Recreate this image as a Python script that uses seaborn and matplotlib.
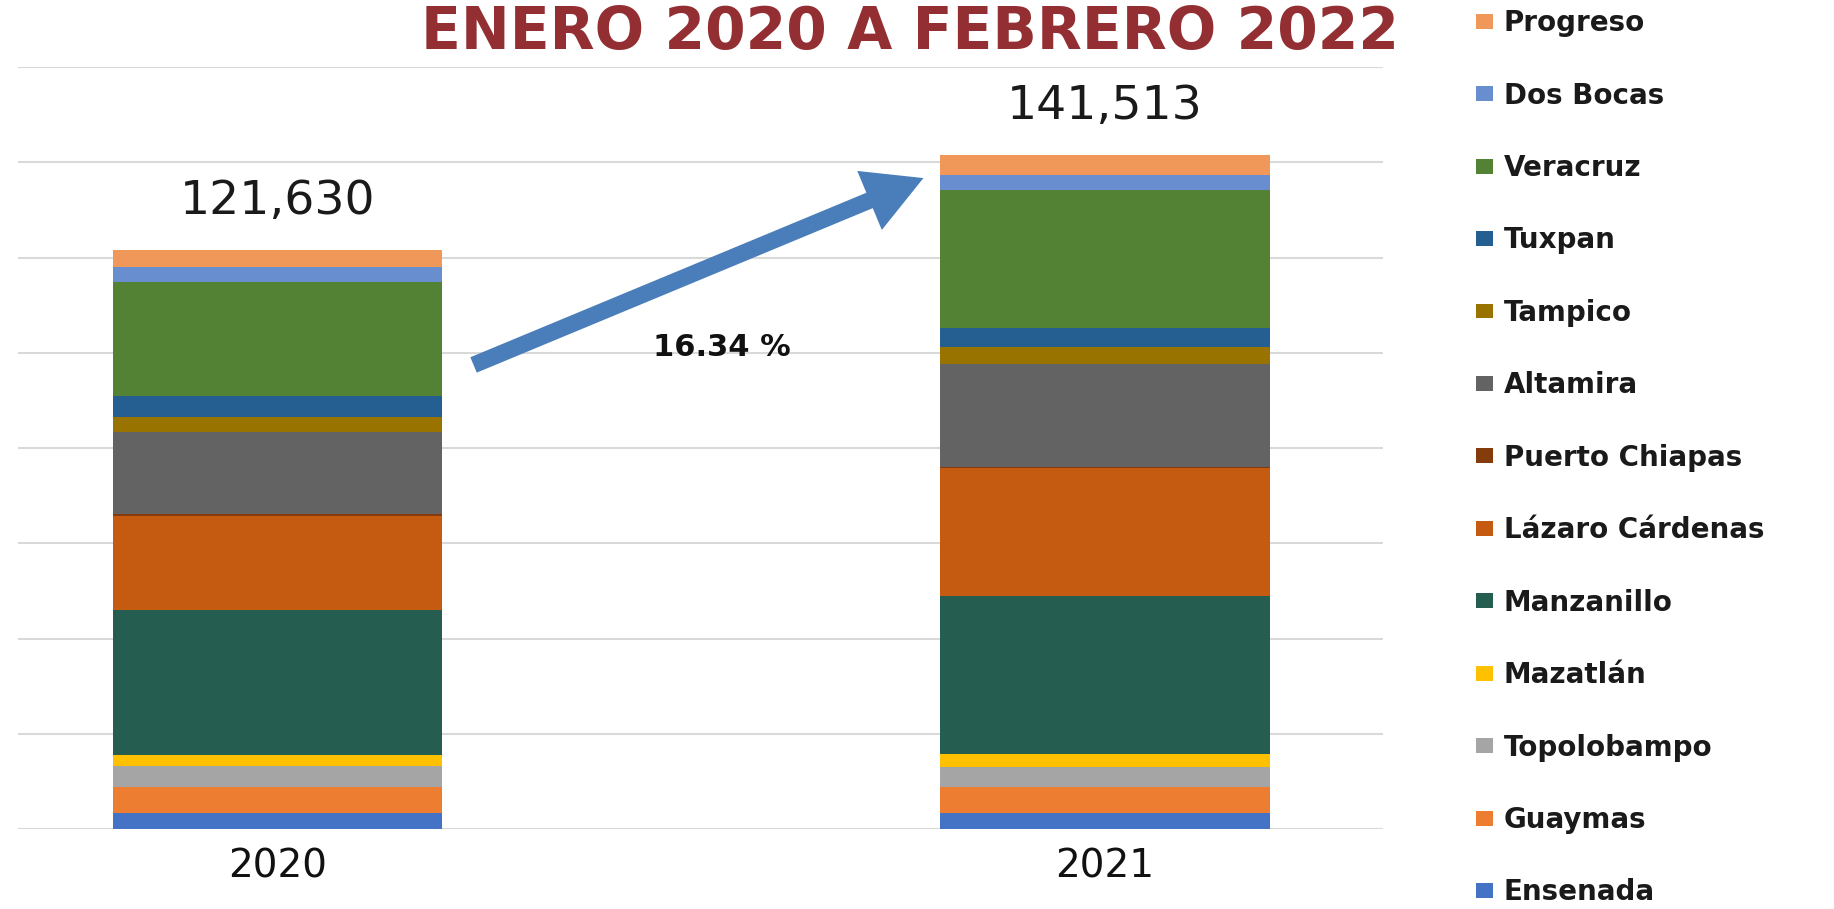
import pandas as pd
import numpy as np
import matplotlib
matplotlib.use('Agg')
import matplotlib.pyplot as plt
from matplotlib.patches import Patch, FancyArrowPatch
import seaborn as sns

years = ['2020', '2021']
ports = ['Progreso', 'Dos Bocas', 'Veracruz', 'Tuxpan', 'Tampico', 'Altamira',
         'Puerto Chiapas', 'Lázaro Cárdenas', 'Manzanillo', 'Mazatlán',
         'Topolobampo', 'Guaymas', 'Ensenada']
vals_2020 = [3575, 3150, 23970, 4420, 3150, 17250, 400, 19830, 30325, 2310, 4480, 5470, 3300]
vals_2021 = [4200, 3150, 28940, 4120, 3510, 21560, 300, 26900, 33070, 2820, 4200, 5380, 3363]
totals = [121630, 141513]
growth_label = '16.34 %'
title = 'ENERO 2020 A FEBRERO 2022'
port_colors = ['#F0975A', '#698ED0', '#548235', '#255E91', '#997300', '#636363',
               '#843C0C', '#C55A11', '#265D51', '#FFC000', '#A5A5A5', '#ED7D31', '#4472C4']

def main():
    rows = []
    for p, a, b in zip(ports, vals_2020, vals_2021):
        rows.append({'year': '2020', 'port': p, 'value': a})
        rows.append({'year': '2021', 'port': p, 'value': b})
    df = pd.DataFrame(rows)

    sns.set_style('white')
    plt.rcParams['font.family'] = ['DejaVu Sans']
    fig = plt.figure(figsize=(18.34, 9.09), dpi=100)
    ax = fig.add_axes([18 / 1834, 1 - 829 / 909, (1383 - 18) / 1834, (829 - 67) / 909])

    palette = dict(zip(ports, port_colors))
    # histplot stacks the last hue level at the bottom
    sns.histplot(data=df, x='year', weights='value', hue='port', hue_order=ports,
                 multiple='stack', discrete=True, shrink=0.398, palette=palette,
                 alpha=1, linewidth=0, legend=False, ax=ax)

    ax.set_ylim(0, 160000)
    ax.set_xlim(-0.314, 1.336)
    ax.set_yticks(np.arange(0, 160001, 20000))
    ax.yaxis.grid(True, color='#D9D9D9', linewidth=1.5)
    ax.set_axisbelow(True)
    ax.set_yticklabels([])
    ax.tick_params(axis='y', length=0)
    ax.set_xticks([0, 1])
    ax.set_xticklabels(years, fontsize=28, color='#111111')
    ax.tick_params(axis='x', length=0, pad=13)
    ax.set_xlabel('')
    ax.set_ylabel('')
    for s in ax.spines.values():
        s.set_visible(False)

    for i, t in enumerate(totals):
        ax.annotate(f'{t:,}', xy=(i, t), xytext=(0, 35), textcoords='offset points',
                    ha='center', va='center', fontsize=34, color='#1A1A1A')

    fig.text(910 / 1834, 1 - 49 / 909, title, ha='center', va='baseline',
             fontsize=42, fontweight='bold', color='#932F32')

    arrow = FancyArrowPatch((471 / 1834, 1 - 366 / 909), (926 / 1834, 1 - 177 / 909),
                            transform=fig.transFigure,
                            arrowstyle='simple,head_length=2.1,head_width=2.3,tail_width=0.6',
                            mutation_scale=20, color='#4A7EBB', linewidth=0)
    fig.add_artist(arrow)
    fig.text(722 / 1834, 1 - 347 / 909, growth_label, ha='center', va='center',
             fontsize=22, fontweight='bold', color='#111111')

    handles = [Patch(facecolor=c, edgecolor='none') for c in port_colors]
    leg = fig.legend(handles, ports, loc='upper left', bbox_to_anchor=(1476 / 1834, 0.990),
                     frameon=False, handlelength=0.62, handleheight=0.45,
                     handletextpad=0.38, labelspacing=1.6, borderaxespad=0, borderpad=0,
                     prop={'weight': 'bold', 'size': 20})
    for txt in leg.get_texts():
        txt.set_color('#1A1A1A')

    fig.savefig('out.png', dpi=100, facecolor='white')

if __name__ == '__main__':
    main()
